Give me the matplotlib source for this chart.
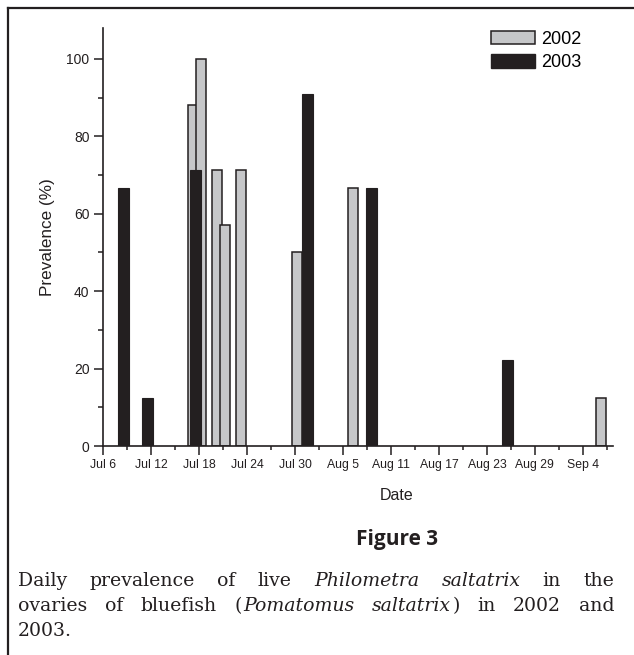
import matplotlib
matplotlib.use("Agg")
import matplotlib.pyplot as plt
import matplotlib.dates as mdates
from matplotlib.patches import Patch
from matplotlib.lines import Line2D
from matplotlib.ticker import FixedLocator, FuncFormatter
import pandas as pd

# data (month-day, prevalence %)
days_2002 = ["07-17", "07-18", "07-20", "07-21", "07-23", "07-30", "08-06", "09-06"]
prev_2002 = [88.2, 100, 71.4, 57.1, 71.4, 50.0, 66.7, 12.5]
days_2003 = ["07-08", "07-11", "07-17", "07-31", "08-08", "08-25"]
prev_2003 = [66.7, 12.5, 71.4, 90.9, 66.7, 22.2]

x_2002 = mdates.date2num(pd.to_datetime(["2003-" + d for d in days_2002]))
x_2003 = mdates.date2num(pd.to_datetime(["2003-" + d for d in days_2003]))

W, H = 634, 655
fig = plt.figure(figsize=(W / 100, H / 100), dpi=100)
fig.patch.set_facecolor("white")

ax = fig.add_axes([103 / W, 1 - 446 / H, (613.3 - 103) / W, (446 - 28) / H])

gray = "#c6c7c9"
dark = "#231f20"
ax.bar(x_2002 + 0.25, prev_2002, width=1.25, color=gray, edgecolor=dark, linewidth=1.1, zorder=2)
ax.bar(x_2003 + 0.6, prev_2003, width=1.4, color=dark, edgecolor=dark, linewidth=0.8, zorder=3)

start = mdates.date2num(pd.Timestamp("2003-07-06"))
ax.set_xlim(start, start + 63.8)
ax.set_ylim(0, 108)

major = mdates.date2num(pd.date_range("2003-07-06", periods=11, freq="6D"))
minor = mdates.date2num(pd.date_range("2003-07-06", periods=22, freq="3D"))
ax.xaxis.set_major_locator(FixedLocator(major))
ax.xaxis.set_minor_locator(FixedLocator(minor))
ax.xaxis.set_major_formatter(FuncFormatter(lambda v, p: "%s %d" % (mdates.num2date(v).strftime("%b"), mdates.num2date(v).day)))
ax.set_yticks(range(0, 101, 20))
ax.set_yticks(range(10, 101, 20), minor=True)

for s in ["top", "right"]:
    ax.spines[s].set_visible(False)
for s in ["left", "bottom"]:
    ax.spines[s].set_linewidth(1.2)
    ax.spines[s].set_color(dark)

ax.tick_params(axis="x", which="major", length=6.3, width=1.1, color=dark, labelsize=8.8, pad=3)
ax.tick_params(axis="x", which="minor", length=3.2, width=1.1, color=dark)
ax.tick_params(axis="y", which="major", length=6.3, width=1.1, color=dark, labelsize=10, pad=3.5)
ax.tick_params(axis="y", which="minor", length=3.6, width=1.1, color=dark)

ax.set_ylabel("Prevalence (%)", fontsize=12.3, color=dark, family="Liberation Sans")
ax.yaxis.set_label_coords(-(103 - 55) / (613.3 - 103), 0.5)
for lab in ax.get_xticklabels() + ax.get_yticklabels():
    lab.set_family("Liberation Sans")
    lab.set_color(dark)

fig.text(397 / W, 1 - 495 / H, "Date", ha="center", va="center", fontsize=11.5,
         family="Liberation Sans", color=dark)

# legend
handles = [Patch(facecolor=gray, edgecolor=dark, linewidth=1.1, label="2002"),
           Patch(facecolor=dark, edgecolor=dark, label="2003")]
fig.legend(handles=handles, loc="upper left", bbox_to_anchor=(491 / W, 1 - 31 / H), frameon=False,
           prop={"family": "Liberation Sans", "size": 13}, handlelength=2.45, handleheight=0.75,
           handletextpad=0.3, labelspacing=0.35, borderpad=0, borderaxespad=0)

# border of the figure box
fig.add_artist(Line2D([8 / W, 1], [1 - 8 / H, 1 - 8 / H], transform=fig.transFigure, color=dark, lw=1.6))
fig.add_artist(Line2D([8 / W, 8 / W], [0, 1 - 8 / H], transform=fig.transFigure, color=dark, lw=1.6))

# caption
fig.text(397 / W, 1 - 540 / H, "Figure 3", ha="center", va="center", fontsize=15,
         family="Open Sans", weight="bold", color=dark)

caption_lines = [
    [("Daily prevalence of live", "normal"), ("Philometra saltatrix", "italic"), ("in the", "normal")],
    [("ovaries of bluefish (", "normal"), ("Pomatomus saltatrix", "italic"), (") in 2002 and", "normal")],
    [("2003.", "normal")],
]
baselines = [586, 611, 636]
x_left, x_right = 18, 614
renderer = fig.canvas.get_renderer()
for i, (segs, yy) in enumerate(zip(caption_lines, baselines)):
    # word tokens with their style; "(" and ")" stick to the neighbouring word
    tokens = []
    for txt, st in segs:
        for j, w in enumerate(txt.split(" ")):
            if w == "":
                continue
            glue = (txt.startswith(")") and j == 0) or (len(tokens) > 0 and tokens[-1][0].endswith("("))
            tokens.append((w, st, glue))
    arts = []
    for w, st, glue in tokens:
        t = fig.text(0, 1 - yy / H, w, ha="left", va="baseline", fontsize=13.6,
                     family="DejaVu Serif", style=st, color=dark)
        arts.append((t, glue))
    widths = [t.get_window_extent(renderer).width for t, g in arts]
    n_gaps = sum(1 for k, (t, g) in enumerate(arts) if k > 0 and not g)
    n_glue = sum(1 for k, (t, g) in enumerate(arts) if k > 0 and g)
    space = 7.0
    if i < len(caption_lines) - 1 and n_gaps > 0:
        space = (x_right - x_left - sum(widths) - 1.5 * n_glue) / n_gaps
    x = x_left
    for k, ((t, g), w) in enumerate(zip(arts, widths)):
        if k > 0:
            x += 1.5 if g else space
        t.set_x(x / W)
        x += w

fig.savefig("out.png", dpi=100, facecolor="white")
